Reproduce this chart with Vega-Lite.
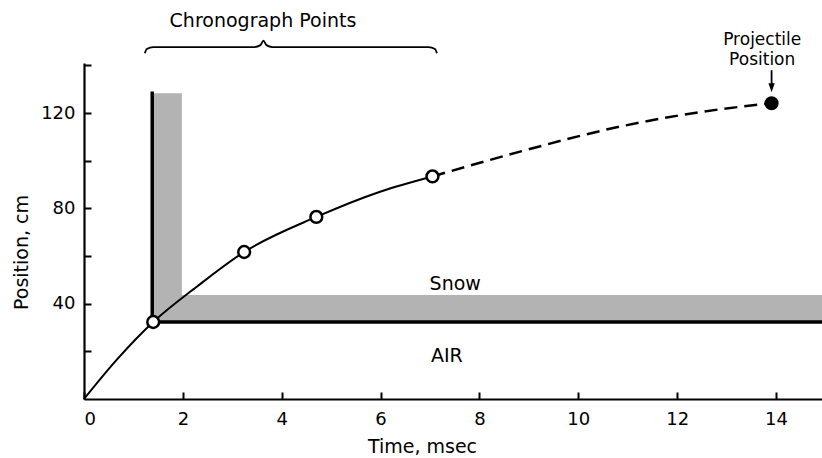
{
  "$schema": "https://vega.github.io/schema/vega-lite/v6.json",
  "width": 738,
  "height": 336,
  "autosize": {"type": "none"},
  "padding": {"left": 84, "top": 63, "right": 0, "bottom": 59},
  "background": "white",
  "config": {
    "view": {"stroke": null},
    "font": "DejaVu Sans",
    "axis": {
      "domainColor": "black",
      "domainWidth": 2.2,
      "tickColor": "black",
      "tickWidth": 2,
      "tickSize": -7,
      "labelFont": "DejaVu Sans",
      "labelFontSize": 18,
      "labelColor": "black",
      "titleFont": "DejaVu Sans",
      "titleFontSize": 19,
      "titleFontWeight": "normal",
      "titleColor": "black",
      "grid": false
    }
  },
  "datasets": {
    "curve": [
      {"t": 0, "p": 0},
      {"t": 0.66, "p": 16.4},
      {"t": 1.4, "p": 32.3},
      {"t": 2.28, "p": 47.1},
      {"t": 3.24, "p": 61.7},
      {"t": 4.7, "p": 76.4},
      {"t": 5.99, "p": 87.0},
      {"t": 7.05, "p": 93.4}
    ],
    "dashed": [
      {"t": 7.05, "p": 93.4},
      {"t": 8.82, "p": 103.8},
      {"t": 10.84, "p": 114.3},
      {"t": 12.53, "p": 120.6},
      {"t": 13.91, "p": 124.1}
    ],
    "chrono": [
      {"t": 1.4, "p": 32.3},
      {"t": 3.24, "p": 61.7},
      {"t": 4.7, "p": 76.4},
      {"t": 7.05, "p": 93.4}
    ],
    "projectile": [{"t": 13.91, "p": 124.1}],
    "snow": [
      {"t": 1.38, "t2": 1.98, "p": 32.3, "p2": 128.3},
      {"t": 1.38, "t2": 14.93, "p": 32.3, "p2": 43.6}
    ],
    "edgeV": [{"t": 1.38, "p": 32.3, "p2": 128.3}],
    "edgeH": [{"t": 1.38, "t2": 14.93, "p": 32.3}],
    "brace": [
      {"i": 0, "t": 1.23, "p": 145.1},
      {"i": 1, "t": 1.27, "p": 146.9},
      {"i": 2, "t": 1.4, "p": 147.7},
      {"i": 3, "t": 3.45, "p": 147.7},
      {"i": 4, "t": 3.57, "p": 148.5},
      {"i": 5, "t": 3.63, "p": 150.4},
      {"i": 6, "t": 3.69, "p": 148.5},
      {"i": 7, "t": 3.81, "p": 147.7},
      {"i": 8, "t": 6.97, "p": 147.7},
      {"i": 9, "t": 7.1, "p": 146.9},
      {"i": 10, "t": 7.14, "p": 145.1}
    ],
    "arrow": [{"t": 13.91, "p": 138.0, "p2": 131.5}],
    "arrowhead": [{"t": 13.91, "p": 130.6}],
    "labels": [
      {"t": 3.62, "p": 155.9, "text": "Chronograph Points"},
      {"t": 7.51, "p": 45.9, "text": "Snow"},
      {"t": 7.34, "p": 15.5, "text": "AIR"}
    ],
    "projlabels": [
      {"t": 13.72, "p": 148.6, "text": "Projectile"},
      {"t": 13.72, "p": 140.3, "text": "Position"}
    ]
  },
  "encoding": {
    "x": {
      "field": "t",
      "type": "quantitative",
      "scale": {"domain": [0, 14.93], "nice": false, "zero": false},
      "axis": {
        "values": [0, 2, 4, 6, 8, 10, 12, 14],
        "format": "d",
        "labelPadding": 18,
        "title": "Time, msec",
        "titleX": 338,
        "titleY": 53,
        "titleBaseline": "alphabetic",
        "titleAlign": "center"
      }
    },
    "y": {
      "field": "p",
      "type": "quantitative",
      "scale": {"domain": [0, 141], "nice": false},
      "axis": {
        "values": [20, 40, 60, 80, 100, 120, 140],
        "labelExpr": "datum.value % 40 == 0 ? datum.label : ''",
        "labelPadding": 16,
        "title": "Position, cm",
        "titleAngle": -90,
        "titleX": -57,
        "titleY": 189,
        "titleBaseline": "alphabetic",
        "titleAlign": "center"
      }
    }
  },
  "layer": [
    {
      "data": {"name": "snow"},
      "mark": {"type": "rect", "fill": "#b3b3b3", "stroke": null},
      "encoding": {"x2": {"field": "t2"}, "y2": {"field": "p2"}}
    },
    {
      "data": {"name": "edgeV"},
      "mark": {"type": "rule", "stroke": "black", "strokeWidth": 3.5, "strokeCap": "square"},
      "encoding": {"y2": {"field": "p2"}}
    },
    {
      "data": {"name": "edgeH"},
      "mark": {"type": "rule", "stroke": "black", "strokeWidth": 3.5, "strokeCap": "square"},
      "encoding": {"x2": {"field": "t2"}}
    },
    {
      "data": {"name": "curve"},
      "mark": {"type": "line", "color": "black", "strokeWidth": 2, "interpolate": "monotone"},
      "encoding": {}
    },
    {
      "data": {"name": "dashed"},
      "mark": {"type": "line", "color": "black", "strokeWidth": 2.5, "interpolate": "monotone", "strokeDash": [13, 7]},
      "encoding": {}
    },
    {
      "data": {"name": "chrono"},
      "mark": {"type": "point", "shape": "circle", "filled": false, "fill": "white", "fillOpacity": 1, "stroke": "black", "strokeWidth": 2.5, "size": 140, "opacity": 1},
      "encoding": {}
    },
    {
      "data": {"name": "projectile"},
      "mark": {"type": "point", "shape": "circle", "filled": true, "color": "black", "size": 200, "opacity": 1},
      "encoding": {}
    },
    {
      "data": {"name": "brace"},
      "mark": {"type": "line", "color": "black", "strokeWidth": 1.8, "interpolate": "monotone", "clip": false},
      "encoding": {"order": {"field": "i", "type": "quantitative"}}
    },
    {
      "data": {"name": "arrow"},
      "mark": {"type": "rule", "stroke": "black", "strokeWidth": 1.8},
      "encoding": {"y2": {"field": "p2"}}
    },
    {
      "data": {"name": "arrowhead"},
      "mark": {"type": "point", "shape": "M-0.7,-1L0.7,-1L0,1Z", "filled": true, "color": "black", "size": 81, "opacity": 1},
      "encoding": {}
    },
    {
      "data": {"name": "labels"},
      "mark": {"type": "text", "font": "DejaVu Sans", "fontSize": 19, "color": "black", "align": "center", "baseline": "alphabetic"},
      "encoding": {"text": {"field": "text"}}
    },
    {
      "data": {"name": "projlabels"},
      "mark": {"type": "text", "font": "DejaVu Sans", "fontSize": 17, "color": "black", "align": "center", "baseline": "alphabetic"},
      "encoding": {"text": {"field": "text"}}
    }
  ]
}
